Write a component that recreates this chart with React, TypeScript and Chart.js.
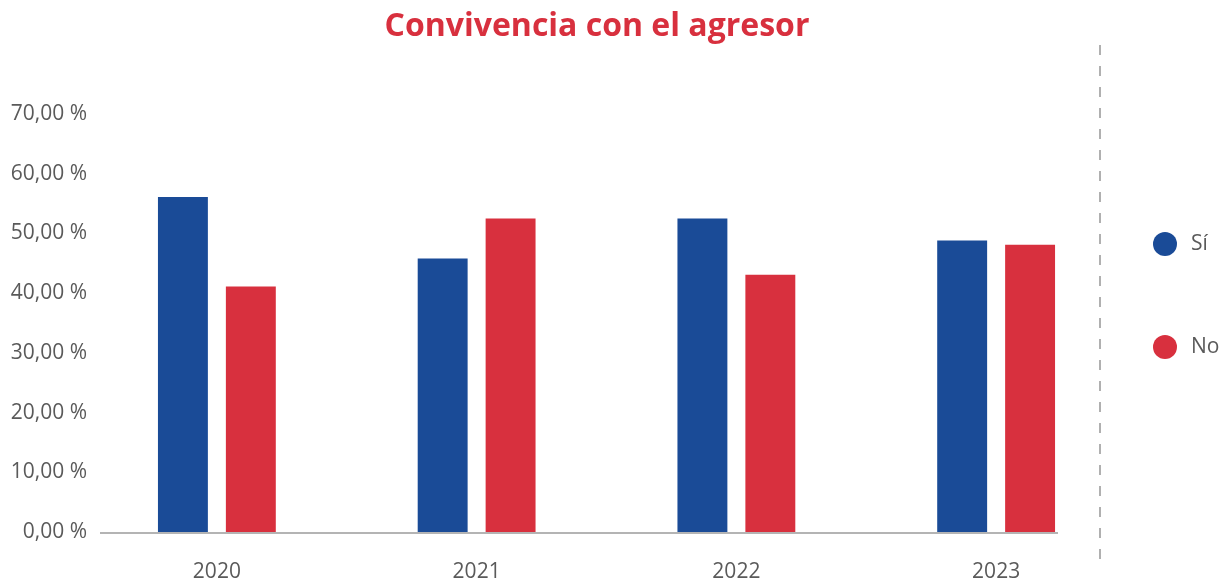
import React, { useEffect, useRef } from "react";
import { Chart, registerables } from "chart.js";

Chart.register(...registerables);

const TITLE = "Convivencia con el agresor";
const categories = ["2020", "2021", "2022", "2023"];
const siValues = [56.1, 45.8, 52.5, 48.8];
const noValues = [41.1, 52.5, 43.1, 48.1];
const seriesLabels = ["Sí", "No"];
const seriesColors = ["#1a4b97", "#d8303e"];
const yTicksMin = 0;
const yTicksMax = 70;
const yTicksStep = 10;

const FONT = "'Open Sans', 'Noto Sans', sans-serif";
const TEXT_COLOR = "#5a5a5a";

const decorPlugin = {
  id: "decor",
  afterDraw(chart: any) {
    const ctx = chart.ctx;
    const y0 = chart.scales.y.getPixelForValue(0);
    ctx.save();
    // title
    ctx.fillStyle = "#d8303e";
    ctx.font = `bold 32px ${FONT}`;
    ctx.textAlign = "center";
    ctx.textBaseline = "middle";
    ctx.fillText(TITLE, 597, 27);
    // baseline
    ctx.strokeStyle = "#b4b4b4";
    ctx.lineWidth = 2;
    ctx.beginPath();
    ctx.moveTo(100, y0 + 1);
    ctx.lineTo(1058, y0 + 1);
    ctx.stroke();
    // dashed separator
    ctx.strokeStyle = "#b0b0b0";
    ctx.lineWidth = 2;
    ctx.setLineDash([10, 11]);
    ctx.beginPath();
    ctx.moveTo(1100, 45);
    ctx.lineTo(1100, 560);
    ctx.stroke();
    ctx.setLineDash([]);
    // legend
    chart.data.datasets.forEach((ds: any, i: number) => {
      const cy = 244 + i * 103;
      ctx.fillStyle = ds.backgroundColor;
      ctx.beginPath();
      ctx.arc(1165, cy, 12, 0, Math.PI * 2);
      ctx.fill();
      ctx.fillStyle = TEXT_COLOR;
      ctx.font = `21px ${FONT}`;
      ctx.textAlign = "left";
      ctx.textBaseline = "middle";
      ctx.fillText(ds.label, 1191, cy);
    });
    ctx.restore();
  },
};

export default function App() {
  const ref = useRef<HTMLCanvasElement | null>(null);

  useEffect(() => {
    if (!ref.current) return;
    const chart = new Chart(ref.current, {
      type: "bar",
      data: {
        labels: categories,
        datasets: [
          {
            label: seriesLabels[0],
            data: siValues,
            backgroundColor: seriesColors[0],
            barPercentage: 0.735,
            categoryPercentage: 0.523,
          },
          {
            label: seriesLabels[1],
            data: noValues,
            backgroundColor: seriesColors[1],
            barPercentage: 0.735,
            categoryPercentage: 0.523,
          },
        ],
      },
      options: {
        responsive: false,
        animation: false,
        devicePixelRatio: 1,
        layout: { padding: { top: 114, right: 102, bottom: 0, left: 0 } },
        plugins: {
          legend: { display: false },
          title: { display: false },
          tooltip: { enabled: false },
        },
        scales: {
          x: {
            grid: { display: false, drawTicks: false },
            border: { display: false },
            ticks: {
              color: TEXT_COLOR,
              font: { family: FONT, size: 21 },
              padding: 27,
            },
            afterFit: (s: any) => {
              s.height = 50;
            },
          },
          y: {
            min: yTicksMin,
            max: yTicksMax,
            grid: { display: false, drawTicks: false },
            border: { display: false },
            ticks: {
              stepSize: yTicksStep,
              color: TEXT_COLOR,
              font: { family: FONT, size: 21 },
              padding: 0,
              callback: (v: any) => Number(v).toFixed(2).replace(".", ",") + " %",
            },
            afterFit: (s: any) => {
              s.width = 87;
            },
          },
        },
      },
      plugins: [decorPlugin],
    });
    return () => chart.destroy();
  }, []);

  return (
    <canvas
      ref={ref}
      width={1228}
      height={582}
      style={{ position: "absolute", left: 0, top: 0, background: "#fff" }}
    />
  );
}
